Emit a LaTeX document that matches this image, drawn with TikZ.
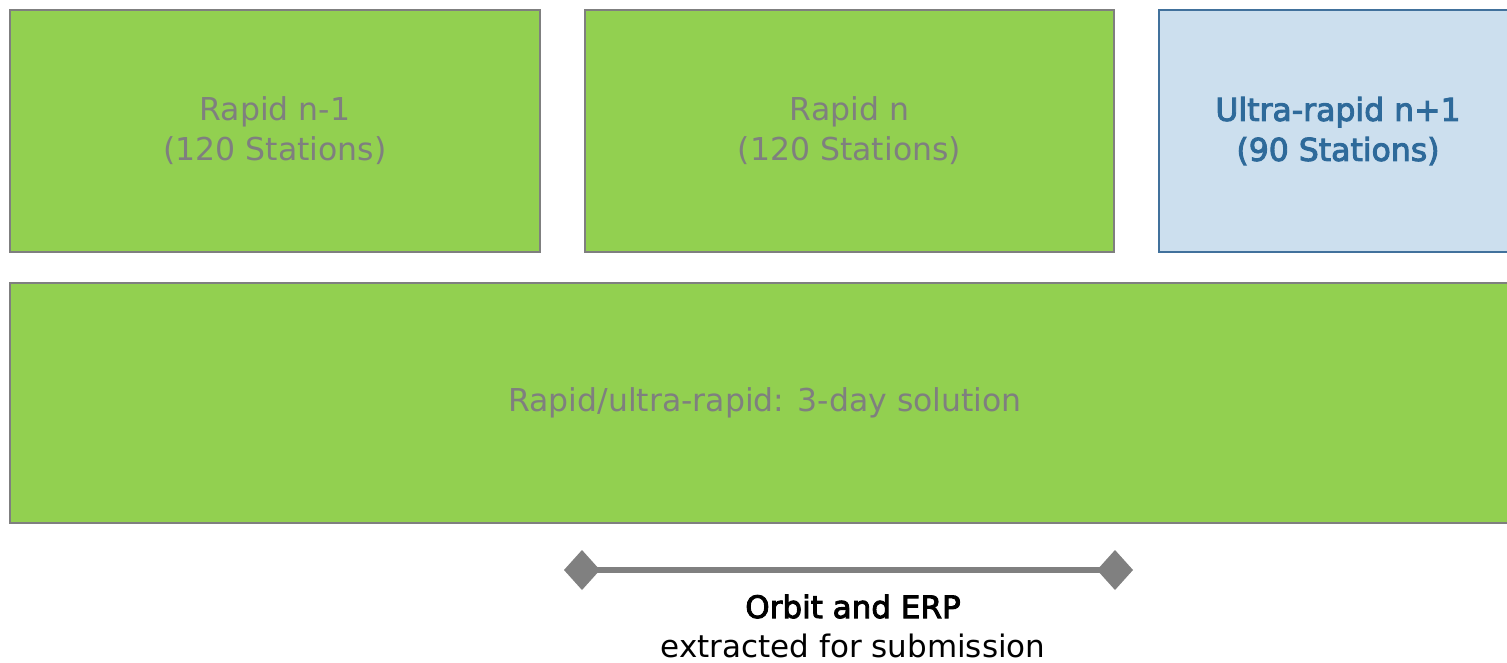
\documentclass[tikz,border=0pt]{standalone}
\usepackage{fontspec}
\setmainfont{DejaVu Sans}
\newfontfamily\semibold[FakeBold=3]{DejaVu Sans}
\usetikzlibrary{arrows.meta}
\definecolor{boxgreen}{HTML}{92D050}
\definecolor{boxgrey}{HTML}{7F7F7F}
\definecolor{boxblue}{HTML}{CCDFEE}
\definecolor{bluetext}{HTML}{2E6A9A}
\definecolor{blueedge}{HTML}{41719C}
\definecolor{linegrey}{HTML}{808080}
\tikzset{
  greenbox/.style={draw=boxgrey, line width=2pt, fill=boxgreen, text=boxgrey,
    align=center, font=\fontsize{31.5}{40}\selectfont, inner sep=0pt},
  bluebox/.style={draw=blueedge, line width=2pt, fill=boxblue, text=bluetext,
    align=center, font=\fontsize{31.5}{40}\selectfont, inner sep=0pt},
  extractline/.style={draw=linegrey, line width=6pt,
    {Diamond[length=36pt,width=40pt,fill=linegrey]}-{Diamond[length=36pt,width=40pt,fill=linegrey]}},
  caption/.style={align=center, text=black, font=\fontsize{31}{39}\selectfont, inner sep=0pt}
}
\begin{document}
\begin{tikzpicture}[x=1pt,y=-1pt]
\useasboundingbox (0,0) rectangle (1507,662);
\clip (0,0) rectangle (1507,662);
\node[greenbox, minimum width=530pt, minimum height=242pt] (rn1) at (275,131)
  {Rapid n-1\\(120 Stations)};
\node[greenbox, minimum width=529pt, minimum height=242pt] (rn) at (849.5,131)
  {Rapid n\\(120 Stations)};
\node[bluebox, minimum width=358pt, minimum height=242pt] (urn) at (1338,131)
  {{\semibold Ultra-rapid n+1}\\{\semibold (90 Stations)}};
\node[greenbox, minimum width=1510pt, minimum height=240pt] (three) at (765,403)
  {Rapid/ultra-rapid: 3-day solution};
\coordinate (exl) at (564,570);
\coordinate (exr) at (1133,570);
\draw[extractline] (exl) -- (exr);
\node[caption] (cap) at (853,626) {{\semibold Orbit and ERP}\\extracted for submission};
\end{tikzpicture}
\end{document}
